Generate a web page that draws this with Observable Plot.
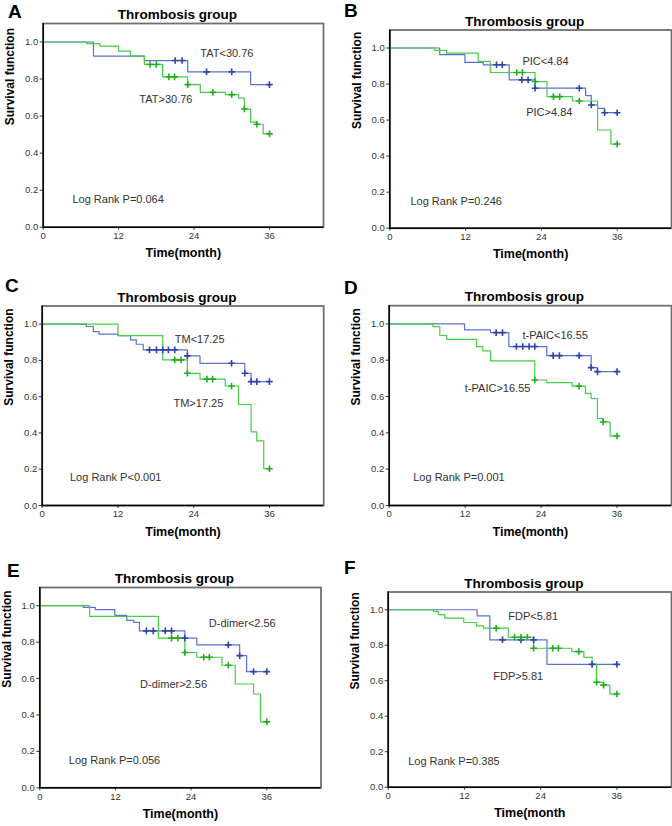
<!DOCTYPE html>
<html><head><meta charset="utf-8">
<script src="https://cdn.jsdelivr.net/npm/d3@7"></script>
<script src="https://cdn.jsdelivr.net/npm/@observablehq/plot@0.6"></script>
<style>
body{margin:0;background:#fff;}
#fig{position:relative;width:672px;height:826px;overflow:hidden;background:#fff;font-family:"Liberation Sans",Arial,sans-serif;}
.panel{position:absolute;}
.letter{position:absolute;font-weight:bold;font-size:19px;line-height:1;color:#000;font-family:"Liberation Sans",Arial,sans-serif;}
</style></head><body><div id="fig"></div>
<script>
// ---------- data (time in months, survival function) ----------
const xTicks = [0, 12, 24, 36];
const yTicks = [0, 0.2, 0.4, 0.6, 0.8, 1.0];
const panelLetters = ["A", "B", "C", "D", "E", "F"];
const panelTitle = "Thrombosis group";
const yLabel = "Survival function";
const xLabels = ["Time(month)", "Time(month)", "Time(month)", "Time(month)", "Time(month)", "Time(month"];
const lowLabels = ["TAT<30.76", "PIC<4.84", "TM<17.25", "t-PAIC<16.55", "D-dimer<2.56", "FDP<5.81"];
const highLabels = ["TAT>30.76", "PIC>4.84", "TM>17.25", "t-PAIC>16.55", "D-dimer>2.56", "FDP>5.81"];
const logRank = ["Log Rank P=0.064", "Log Rank P=0.246", "Log Rank P<0.001", "Log Rank P=0.001", "Log Rank P=0.056", "Log Rank P=0.385"];

const A_low = [[0,1],[8,0.924],[16.1,0.900],[23,0.839],[33,0.770],[36,0.770]];
const A_lowCens = [[21,0.900],[22.1,0.900],[26,0.839],[30,0.839],[36,0.770]];
const A_high = [[0,1],[6.9,0.991],[9,0.978],[12,0.951],[13.9,0.924],[16.1,0.879],[19,0.812],[23,0.770],[25,0.728],[29,0.716],[31.1,0.697],[32,0.638],[33,0.567],[34,0.556],[35,0.504],[36,0.504]];
const A_highCens = [[17,0.879],[18,0.879],[20,0.812],[20.9,0.812],[23,0.770],[27,0.728],[30,0.716],[32,0.638],[34,0.556],[36,0.504]];

const B_low = [[0,1],[7.9,0.963],[11.9,0.920],[14.8,0.907],[18.9,0.823],[23,0.777],[31,0.736],[31.9,0.684],[32.9,0.665],[34,0.641],[36,0.641]];
const B_lowCens = [[16.9,0.907],[17.8,0.907],[20.9,0.823],[21.9,0.823],[23,0.777],[30,0.777],[31.9,0.684],[34,0.641],[36,0.641]];
const B_high = [[0,1],[7.1,0.987],[9,0.972],[14,0.926],[15.9,0.864],[23,0.814],[24.9,0.730],[28.9,0.706],[32.9,0.545],[35,0.467],[36,0.467]];
const B_highCens = [[20.1,0.864],[21,0.864],[23,0.814],[25.9,0.730],[26.9,0.730],[30,0.706],[36,0.467]];

const C_low = [[0,1],[7,0.987],[8.1,0.959],[9,0.945],[12,0.937],[14,0.913],[14.9,0.889],[16,0.858],[23,0.825],[25,0.784],[32.1,0.729],[33.1,0.683],[36,0.683]];
const C_lowCens = [[17,0.858],[18.1,0.858],[19.1,0.858],[20,0.858],[21,0.858],[23,0.825],[30,0.784],[32.1,0.729],[33.1,0.683],[34,0.683],[36,0.683]];
const C_high = [[0,1],[12,0.937],[19.1,0.803],[23,0.729],[25,0.697],[29,0.659],[31.1,0.557],[33.1,0.406],[34,0.356],[35.1,0.203],[36,0.203]];
const C_highCens = [[21,0.803],[22,0.803],[23,0.729],[26.1,0.697],[27,0.697],[30,0.659],[36,0.203]];

const D_low = [[0,1],[11.9,0.967],[16,0.952],[18.9,0.875],[24.9,0.825],[31.9,0.759],[32.9,0.737],[36,0.737]];
const D_lowCens = [[16.9,0.952],[17.9,0.952],[20.1,0.875],[21.1,0.875],[22.1,0.875],[23,0.875],[25.9,0.825],[26.9,0.825],[30,0.825],[31.9,0.759],[32.9,0.737],[36,0.737]];
const D_high = [[0,1],[6.9,0.985],[8,0.936],[9.1,0.915],[13.8,0.875],[14.8,0.851],[16,0.796],[23,0.691],[24.9,0.676],[28.9,0.657],[31,0.617],[31.9,0.589],[32.9,0.479],[33.8,0.460],[34.9,0.383],[36,0.383]];
const D_highCens = [[23,0.691],[30,0.657],[33.8,0.460],[36,0.383]];

const E_low = [[0,1],[6.9,0.991],[8.8,0.978],[11.9,0.947],[13.8,0.919],[14.9,0.908],[15.8,0.862],[23,0.822],[24.9,0.785],[31.7,0.726],[32.8,0.638],[36,0.638]];
const E_lowCens = [[16.9,0.862],[18,0.862],[19.9,0.862],[20.9,0.862],[23,0.822],[29.9,0.785],[31.7,0.726],[33.9,0.638],[36,0.638]];
const E_high = [[0,1],[7.9,0.941],[18.8,0.822],[23,0.743],[24.9,0.717],[28.9,0.673],[31,0.570],[33.9,0.515],[35,0.362],[36,0.362]];
const E_highCens = [[20.9,0.822],[21.9,0.822],[23,0.743],[26,0.717],[26.9,0.717],[29.9,0.673],[36,0.362]];

const F_low = [[0,1],[14,0.966],[16,0.830],[25,0.692],[36,0.692]];
const F_lowCens = [[18,0.830],[20.9,0.830],[22.9,0.830],[32.1,0.692],[36,0.692]];
const F_high = [[0,1],[7.1,0.991],[7.9,0.972],[8.9,0.953],[11.9,0.928],[13.9,0.909],[15,0.896],[18.9,0.845],[22.9,0.783],[28.9,0.764],[30.8,0.732],[32.1,0.694],[32.8,0.591],[33.9,0.575],[34.9,0.525],[36,0.525]];
const F_highCens = [[17,0.896],[19.9,0.845],[20.9,0.845],[21.9,0.845],[22.9,0.783],[25.9,0.783],[26.8,0.783],[30,0.764],[32.8,0.591],[33.9,0.575],[36,0.525]];

// ---------- annotation placement (data units) ----------
const annot = [
  {low:[25.0,0.939], high:[15.3,0.689], lr:[4.65,0.15]},
  {low:[21.0,0.926], high:[21.6,0.643], lr:[3.27,0.149]},
  {low:[21.0,0.917], high:[20.8,0.563], lr:[4.4,0.157]},
  {low:[21.05,0.934], high:[11.95,0.645], lr:[3.8,0.157]},
  {low:[26.8,0.901], high:[15.9,0.568], lr:[4.6,0.151]},
  {low:[18.9,0.962], high:[16.55,0.626], lr:[3.15,0.145]}
];

// ---------- layout ----------
const layout = [
  {x:0,   y:0,   h:275, mL:42.7, mR:13,   mT:23,   mB:48.3, letterX:8,  letterY:11},
  {x:336, y:0,   h:275, mL:53.3, mR:1,    mT:29.5, mB:47.3, letterX:8,  letterY:10},
  {x:0,   y:275, h:275, mL:41.7, mR:12.8, mT:30.5, mB:45,   letterX:5,  letterY:10},
  {x:336, y:275, h:275, mL:52.7, mR:1,    mT:30.2, mB:45,   letterX:8,  letterY:12.5},
  {x:0,   y:550, h:276, mL:39.3, mR:15.5, mT:37,   mB:38.7, letterX:7,  letterY:20.5},
  {x:336, y:550, h:276, mL:51.7, mR:1,    mT:41.5, mB:39.3, letterX:8,  letterY:17.5}
];
const series = [
  [A_low, A_lowCens, A_high, A_highCens],
  [B_low, B_lowCens, B_high, B_highCens],
  [C_low, C_lowCens, C_high, C_highCens],
  [D_low, D_lowCens, D_high, D_highCens],
  [E_low, E_lowCens, E_high, E_highCens],
  [F_low, F_lowCens, F_high, F_highCens]
];

const BLUE = "#5d70cf", BLUE_D = "#3043a8";
const GREEN = "#46cc46", GREEN_D = "#1fae1f";
const plusSym = {draw(ctx, size) { const r = Math.sqrt(size / Math.PI); ctx.moveTo(-r, 0); ctx.lineTo(r, 0); ctx.moveTo(0, -r); ctx.lineTo(0, r); }};
const toObj = arr => arr.map(([t, s]) => ({t, s}));

const fig = document.getElementById("fig");
layout.forEach((L, i) => {
  const [low, lowC, high, highC] = series[i].map(toObj);
  const a = annot[i];
  const plot = Plot.plot({
    width: 336, height: L.h,
    marginLeft: L.mL, marginRight: L.mR, marginTop: L.mT, marginBottom: L.mB,
    style: {fontFamily: '"Liberation Sans", Arial, sans-serif', fontSize: "9.5px", color: "#333", background: "transparent", overflow: "visible"},
    x: {domain: [0, 44.6]},
    y: {domain: [0, 1.1]},
    marks: [
      Plot.frame({stroke: "#707070", strokeWidth: 1.8}),
      Plot.axisX({ticks: xTicks, tickSize: 3, tickPadding: 2, label: null, tickFormat: d3.format("d")}),
      Plot.axisY({ticks: yTicks, tickSize: 3, tickPadding: 2, label: null, tickFormat: d3.format(".1f")}),
      Plot.line(low, {x: "t", y: "s", curve: "step-after", stroke: BLUE, strokeWidth: 1.2}),
      Plot.line(high, {x: "t", y: "s", curve: "step-after", stroke: GREEN, strokeWidth: 1.2}),
      Plot.dot(lowC, {x: "t", y: "s", symbol: plusSym, r: 3.3, stroke: BLUE_D, fill: "none", strokeWidth: 1.6}),
      Plot.dot(highC, {x: "t", y: "s", symbol: plusSym, r: 3.3, stroke: GREEN_D, fill: "none", strokeWidth: 1.6}),
      Plot.ruleX([0], {stroke: "#000", strokeWidth: 1.5}),
      Plot.ruleY([0], {stroke: "#000", strokeWidth: 1.5}),
      Plot.text([lowLabels[i]], {x: a.low[0], y: a.low[1], text: d => d, textAnchor: "start", fontSize: 11, fill: "#333"}),
      Plot.text([highLabels[i]], {x: a.high[0], y: a.high[1], text: d => d, textAnchor: "start", fontSize: 11, fill: "#333"}),
      Plot.text([logRank[i]], {x: a.lr[0], y: a.lr[1], text: d => d, textAnchor: "start", fontSize: 11, fill: "#333"}),
      Plot.text([panelTitle], {frameAnchor: "top", dx: -6, dy: -14, text: d => d, fontWeight: "bold", fontSize: 13.5, fill: "#000"}),
      Plot.text([yLabel], {frameAnchor: "left", rotate: -90, dx: -33, text: d => d, fontWeight: "bold", fontSize: 12, fill: "#000"}),
      Plot.text([xLabels[i]], {frameAnchor: "bottom", dy: 30, text: d => d, fontWeight: "bold", fontSize: 12.5, fill: "#000"})
    ]
  });
  const wrap = document.createElement("div");
  wrap.className = "panel";
  wrap.style.left = L.x + "px";
  wrap.style.top = L.y + "px";
  wrap.appendChild(plot);
  fig.appendChild(wrap);
  const letter = document.createElement("div");
  letter.className = "letter";
  letter.textContent = panelLetters[i];
  letter.style.left = (L.x + L.letterX) + "px";
  letter.style.top = (L.y + L.letterY - 9.5) + "px";
  fig.appendChild(letter);
});
</script></body></html>
